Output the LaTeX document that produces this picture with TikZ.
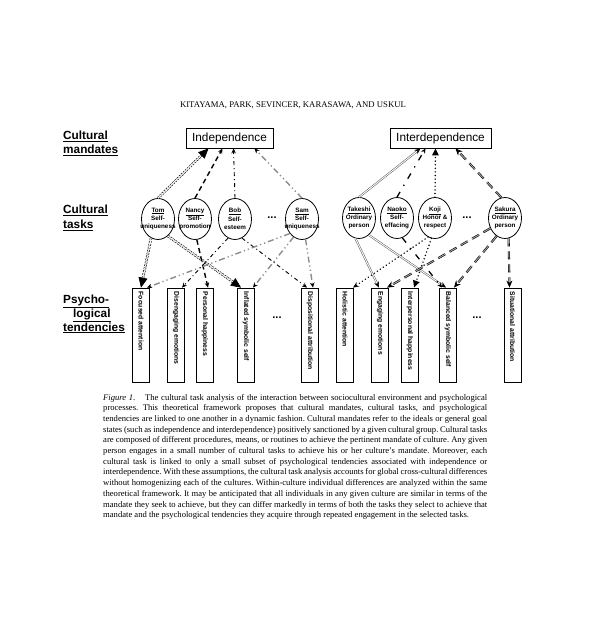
\documentclass[tikz,border=0pt]{standalone}
\usepackage{fontspec}
\setmainfont{Liberation Serif}
\setsansfont{Liberation Sans}
\usetikzlibrary{arrows.meta,shapes.geometric,calc}
\frenchspacing
\begin{document}
\begin{tikzpicture}[x=1pt,y=-1pt,
  lab/.style={font=\sffamily\bfseries\fontsize{11.8}{14.5}\selectfont, anchor=base west, inner sep=0pt},
  mandate/.style={draw, line width=0.9pt, minimum height=20pt, inner sep=0pt, font=\sffamily\fontsize{11.8}{13}\selectfont},
  task/.style={draw, ellipse, line width=0.8pt, minimum width=33pt, minimum height=41pt, inner sep=0pt},
  tasktext/.style={font=\sffamily\bfseries\fontsize{6.3}{8.3}\selectfont, align=center, inner sep=0pt},
  tend/.style={draw, line width=0.8pt, minimum width=17pt, minimum height=94pt, inner sep=0pt},
  tendtext/.style={font=\sffamily\bfseries\fontsize{6.8}{8}\selectfont, rotate=-90, anchor=west, inner sep=0pt},
  ell/.style={font=\sffamily\bfseries\fontsize{11}{11}\selectfont, inner sep=0pt},
  capline/.style={font=\fontsize{8.6}{10.7}\selectfont, anchor=base west, inner sep=0pt},
  tomln/.style={draw=black, line width=0.6pt, double=white, double distance=1.3pt, dash pattern=on 1.8pt off 1.2pt, -{Triangle[length=10pt,width=9pt,color=black,fill=black]}},
  nancyln/.style={draw=black, line width=1.4pt, dash pattern=on 5pt off 3.5pt, -{Stealth[length=5pt,width=4.5pt]}},
  bobln/.style={draw=black, line width=0.9pt, dash pattern=on 4pt off 3pt on 1pt off 3pt, -{Stealth[length=5pt,width=4.5pt]}},
  samln/.style={draw=black!45, line width=1.4pt, dash pattern=on 6pt off 3pt on 1.2pt off 3pt on 1.2pt off 3pt, -{Stealth[length=5pt,width=4.5pt,black]}},
  takln/.style={draw=black!65, line width=0.5pt, double=white, double distance=0.9pt, -{Stealth[length=6pt,width=5pt,color=black,fill=black]}},
  naokoln/.style={draw=black, line width=1.3pt, dash pattern=on 6pt off 7pt on 1.3pt off 7pt, -{Stealth[length=5pt,width=4.5pt]}},
  kojiln/.style={draw=black, line width=1.6pt, line cap=round, dash pattern=on 0pt off 3.6pt, -{Triangle[length=7pt,width=6.5pt]}},
  kojism/.style={kojiln, -{Stealth[length=6pt,width=5pt]}},
  sakln/.style={draw=black, line width=0.6pt, double=black!35, double distance=0.9pt, dash pattern=on 8pt off 5pt, -{Stealth[length=7pt,width=6pt,color=black,fill=black]}}
]
\fill[white] (0,0) rectangle (600,620);
\useasboundingbox (0,0) rectangle (600,620);

% header
\node[font=\fontsize{8.7}{9}\selectfont, inner sep=0pt] (hdr) at (293,105) {KITAYAMA, PARK, SEVINCER, KARASAWA, AND USKUL};

% row labels
\node[lab] (l1a) at (63,140) {\underline{Cultural}};
\node[lab] (l1b) at (63,154) {\underline{mandates}};
\node[lab] (l2a) at (63,214) {\underline{Cultural}};
\node[lab] (l2b) at (63,229) {\underline{tasks}};
\node[lab] (l3a) at (63,303) {\underline{Psycho-}};
\node[lab] (l3b) at (73,317) {\underline{logical}};
\node[lab] (l3c) at (63,331) {\underline{tendencies}};

% mandates
\node[mandate, minimum width=87pt] (indep) at (229.5,138) {Independence};
\node[mandate, minimum width=101pt] (inter) at (440.5,138) {Interdependence};

% tasks
\node[task] (tom) at (158,219) {};
\node[task] (nancy) at (195,219) {};
\node[task] (bob) at (235,219) {};
\node[task] (sam) at (302,219) {};
\node[task] (takeshi) at (359,218) {};
\node[task] (naoko) at (397,218) {};
\node[task] (koji) at (435,218) {};
\node[task] (sakura) at (505,218) {};
\node[tasktext] (tomt) at (tom) {\underline{Tom}\\Self-\\uniqueness};
\node[tasktext] (nancyt) at (nancy) {\underline{Nancy}\\Self-\\promotion};
\node[tasktext] (bobt) at (bob) {\underline{Bob}\\Self-\\esteem};
\node[tasktext] (samt) at (sam) {\underline{Sam}\\Self-\\uniqueness};
\node[tasktext] (takeshit) at (takeshi) {\underline{Takeshi}\\Ordinary\\person};
\node[tasktext] (naokot) at (naoko) {\underline{Naoko}\\Self-\\effacing};
\node[tasktext] (kojit) at (koji) {\underline{Koji}\\Honor \&\\respect};
\node[tasktext] (sakurat) at (sakura) {\underline{Sakura}\\Ordinary\\person};
\node[ell] (d1) at (272,218) {...};
\node[ell] (d2) at (467,218) {...};

% tendencies
\node[tend] (f1) at (141,335) {};
\node[tend] (f2) at (176,335) {};
\node[tend] (f3) at (205,335) {};
\node[tend] (f4) at (246,335) {};
\node[tend] (f5) at (310,335) {};
\node[tend] (f6) at (345,335) {};
\node[tend] (f7) at (380,335) {};
\node[tend] (f8) at (410,335) {};
\node[tend] (f9) at (448,335) {};
\node[tend] (f10) at (512.5,335) {};
\node[tendtext] (t1) at ([yshift=-4pt]f1.north) {Focused attention};
\node[tendtext] (t2) at ([yshift=-4pt]f2.north) {Disengaging emotions};
\node[tendtext] (t3) at ([yshift=-4pt]f3.north) {Personal happiness};
\node[tendtext] (t4) at ([yshift=-4pt]f4.north) {Inflated symbolic self};
\node[tendtext] (t5) at ([yshift=-4pt]f5.north) {Dispositional attribution};
\node[tendtext] (t6) at ([yshift=-4pt]f6.north) {Holistic attention};
\node[tendtext] (t7) at ([yshift=-4pt]f7.north) {Engaging emotions};
\node[tendtext] (t8) at ([yshift=-4pt]f8.north) {Interpersonal happiness};
\node[tendtext] (t9) at ([yshift=-4pt]f9.north) {Balanced symbolic self};
\node[tendtext] (t10) at ([yshift=-4pt]f10.north) {Situational attribution};
\node[ell] (d3) at (277,318) {...};
\node[ell] (d4) at (477,318) {...};

% tasks -> mandates
\draw[tomln] (tom.north) -- ([xshift=-21pt]indep.south);
\draw[nancyln] (nancy.north) -- ([xshift=-7pt]indep.south);
\draw[bobln] (bob.north) -- ([xshift=4pt]indep.south);
\draw[samln] (sam.north) -- ([xshift=25pt]indep.south);
\draw[takln] (takeshi.north) -- ([xshift=-20pt]inter.south);
\draw[naokoln] (naoko.north) -- ([xshift=-15pt]inter.south);
\draw[kojiln] (koji.north) -- ([xshift=-5pt]inter.south);
\draw[sakln] (sakura.100) -- ([xshift=15pt]inter.south);

% tasks -> tendencies (left)
\draw[tomln] (tom.250) -- (f1.north);
\draw[tomln] (tom.300) -- ([xshift=-5pt]f4.north);
\draw[nancyln] (nancy.275) -- ([xshift=3pt]f3.north);
\draw[bobln] (bob.250) -- ([xshift=6pt]f2.north);
\draw[bobln] (bob.290) -- ([xshift=-3pt]f5.north);
\draw[samln] (sam.230) -- ([xshift=6pt]f1.north);
\draw[samln] (sam.245) -- ([xshift=7pt]f4.north);
\draw[samln] (sam.280) -- ([xshift=3pt]f5.north);
% right
\draw[takln] (takeshi.260) -- ([xshift=-1pt]f7.north);
\draw[takln] (takeshi.300) -- ([xshift=-2pt]f9.north);
\draw[naokoln] (naoko.285) -- ([xshift=-6pt]f9.north);
\draw[kojism] (koji.250) -- ([xshift=8pt]f6.north);
\draw[kojiln] (koji.260) -- ([xshift=4pt]f8.north);
\draw[sakln] (sakura.215) -- ([xshift=7pt]f7.north);
\draw[sakln] (sakura.245) -- ([xshift=6pt]f9.north);
\draw[sakln] (sakura.280) -- ([xshift=-3pt]f10.north);

% caption
\node[capline] (c1) at (103,400) {\makebox[384pt][s]{\textit{Figure 1.}\hspace{7pt} The cultural task analysis of the interaction between sociocultural environment and psychological}};
\node[capline] (c2) at (103,410.7) {\makebox[384pt][s]{processes. This theoretical framework proposes that cultural mandates, cultural tasks, and psychological}};
\node[capline] (c3) at (103,421.4) {\makebox[384pt][s]{tendencies are linked to one another in a dynamic fashion. Cultural mandates refer to the ideals or general goal}};
\node[capline] (c4) at (103,432.1) {\makebox[384pt][s]{states (such as independence and interdependence) positively sanctioned by a given cultural group. Cultural tasks}};
\node[capline] (c5) at (103,442.8) {\makebox[384pt][s]{are composed of different procedures, means, or routines to achieve the pertinent mandate of culture. Any given}};
\node[capline] (c6) at (103,453.5) {\makebox[384pt][s]{person engages in a small number of cultural tasks to achieve his or her culture’s mandate. Moreover, each}};
\node[capline] (c7) at (103,464.2) {\makebox[384pt][s]{cultural task is linked to only a small subset of psychological tendencies associated with independence or}};
\node[capline] (c8) at (103,474.9) {\makebox[384pt][s]{interdependence. With these assumptions, the cultural task analysis accounts for global cross-cultural differences}};
\node[capline] (c9) at (103,485.6) {\makebox[384pt][s]{without homogenizing each of the cultures. Within-culture individual differences are analyzed within the same}};
\node[capline] (c10) at (103,496.3) {\makebox[384pt][s]{theoretical framework. It may be anticipated that all individuals in any given culture are similar in terms of the}};
\node[capline] (c11) at (103,507) {\makebox[384pt][s]{mandate they seek to achieve, but they can differ markedly in terms of both the tasks they select to achieve that}};
\node[capline] (c12) at (103,517.7) {mandate and the psychological tendencies they acquire through repeated engagement in the selected tasks.};
\end{tikzpicture}
\end{document}
